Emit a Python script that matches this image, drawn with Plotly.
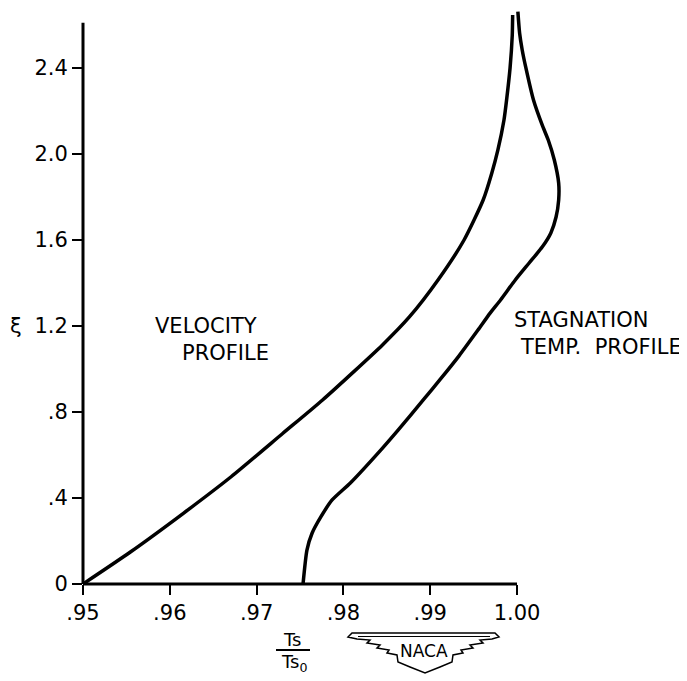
import plotly.graph_objects as go

# ---------------- data ----------------
velocity_xi = [0.0, 0.15, 0.33, 0.50, 0.70, 0.856, 1.112, 1.242, 1.414, 1.60,
               1.786, 1.912, 2.019, 2.158, 2.251, 2.40, 2.55, 2.647]
velocity_ratio = [0.9500, 0.9555, 0.9616, 0.9671, 0.9730, 0.9776, 0.9845, 0.9876, 0.9909,
                  0.9939, 0.9961, 0.9971, 0.9978, 0.9985, 0.9988, 0.9992, 0.99945, 0.9995]

stag_xi = [0.0, 0.158, 0.237, 0.312, 0.391, 0.470, 0.623, 0.716, 0.856, 0.949, 1.060,
           1.181, 1.260, 1.321, 1.414, 1.493, 1.567, 1.633, 1.707, 1.786, 1.865, 1.972,
           2.065, 2.135, 2.251, 2.405, 2.484, 2.563, 2.662]
stag_ratio = [0.97535, 0.9758, 0.9764, 0.9774, 0.9787, 0.9808, 0.9843, 0.9863, 0.9892,
              0.9911, 0.9933, 0.9955, 0.9969, 0.9981, 0.9998, 1.0014, 1.0029, 1.0039,
              1.0045, 1.0048, 1.0048, 1.0043, 1.0036, 1.0029, 1.0019, 1.0010, 1.0006,
              1.0003, 1.0001]

x_tick_vals = [0.95, 0.96, 0.97, 0.98, 0.99, 1.00]
x_tick_text = [".95", ".96", ".97", ".98", ".99", "1.00"]
y_tick_vals = [0.0, 0.4, 0.8, 1.2, 1.6, 2.0, 2.4]
y_tick_text = ["0", ".4", ".8", "1.2", "1.6", "2.0", "2.4"]

X_AXIS_END = 1.00
Y_AXIS_END = 2.61

# ---------------- layout geometry ----------------
OFF = 8                      # page body margin
W, H = 679, 673
L, R, T, B = 75, 97, 2, 97
PW, PH = W - L - R, H - T - B
X_SCALE, Y_SCALE = 8680.0, 215.0   # pixels per data unit
FONT = "DejaVu Sans"


def px(xp):
    """page x pixel -> paper x"""
    return (xp - OFF - L) / PW


def py(yp):
    """page y pixel -> paper y"""
    return (H - B - (yp - OFF)) / PH


fig = go.Figure()
line_style = dict(color="black", width=3.5, shape="spline", smoothing=0.6)
fig.add_trace(go.Scatter(x=velocity_ratio, y=velocity_xi, mode="lines",
                         line=line_style, showlegend=False, hoverinfo="skip"))
fig.add_trace(go.Scatter(x=stag_ratio, y=stag_xi, mode="lines",
                         line=line_style, showlegend=False, hoverinfo="skip"))

shapes = [
    dict(type="line", xref="x", yref="paper", x0=0.95, x1=X_AXIS_END, y0=0, y1=0,
         line=dict(color="black", width=3)),
    dict(type="line", xref="paper", yref="y", x0=0, x1=0, y0=0, y1=Y_AXIS_END,
         line=dict(color="black", width=3)),
    dict(type="line", xref="paper", yref="paper", x0=px(276), x1=px(310),
         y0=py(650), y1=py(650), line=dict(color="black", width=2)),
]

# NACA wing emblem outline (page pixel points)
wing_pts = [(348, 637), (352, 633), (495, 633), (499, 637), (492, 639), (480, 640),
            (483, 643), (470, 645), (473, 648), (461, 650), (463, 653), (453, 655),
            (452, 662), (440, 667), (425, 673), (410, 667), (398, 662), (397, 655),
            (387, 653), (389, 650), (377, 648), (380, 645), (367, 643), (370, 640),
            (357, 639)]
path = "M " + " L ".join(f"{px(a):.4f},{py(b):.4f}" for a, b in wing_pts) + " Z"
shapes.append(dict(type="path", xref="paper", yref="paper", path=path,
                   line=dict(color="black", width=1.5), fillcolor="white"))
shapes.append(dict(type="line", xref="paper", yref="paper", x0=px(358), x1=px(490),
                   y0=py(636.5), y1=py(636.5), line=dict(color="black", width=1)))

txt = dict(family=FONT, size=21, color="black")


def ann(text, x, y, xref="x", yref="y", xanchor="center", size=21):
    return dict(text=text, x=x, y=y, xref=xref, yref=yref, showarrow=False,
                font=dict(family=FONT, size=size, color="black"),
                xanchor=xanchor, yanchor="middle")


annotations = [
    ann("VELOCITY", 0.96417, 1.2),
    ann("PROFILE", 0.96647, 1.074),
    ann("STAGNATION", 0.99942, 1.228, xanchor="left"),
    ann("TEMP.  PROFILE", 1.00011, 1.102, xanchor="left"),
    ann("ξ", px(16), py(326), "paper", "paper", size=21),
    ann("Ts", px(292), py(639), "paper", "paper", size=18),
    ann("Ts<sub>0</sub>", px(294), py(663), "paper", "paper", size=18),
    ann("NACA", px(424), py(651), "paper", "paper", size=17),
]

fig.update_layout(
    width=W, height=H,
    margin=dict(l=L, r=R, t=T, b=B, autoexpand=False),
    paper_bgcolor="white", plot_bgcolor="white",
    font=dict(family=FONT, size=21, color="black"),
    shapes=shapes, annotations=annotations, showlegend=False,
    xaxis=dict(range=[0.95, 0.95 + PW / X_SCALE], tickvals=x_tick_vals, ticktext=x_tick_text,
               ticks="outside", ticklen=10, tickwidth=2, tickcolor="black",
               showgrid=False, zeroline=False, showline=False,
               tickfont=dict(family=FONT, size=21, color="black")),
    yaxis=dict(range=[0, PH / Y_SCALE], tickvals=y_tick_vals, ticktext=y_tick_text,
               ticks="outside", ticklen=10, tickwidth=2, tickcolor="black",
               showgrid=False, zeroline=False, showline=False,
               tickfont=dict(family=FONT, size=21, color="black")),
)

fig.write_html("out.html")
